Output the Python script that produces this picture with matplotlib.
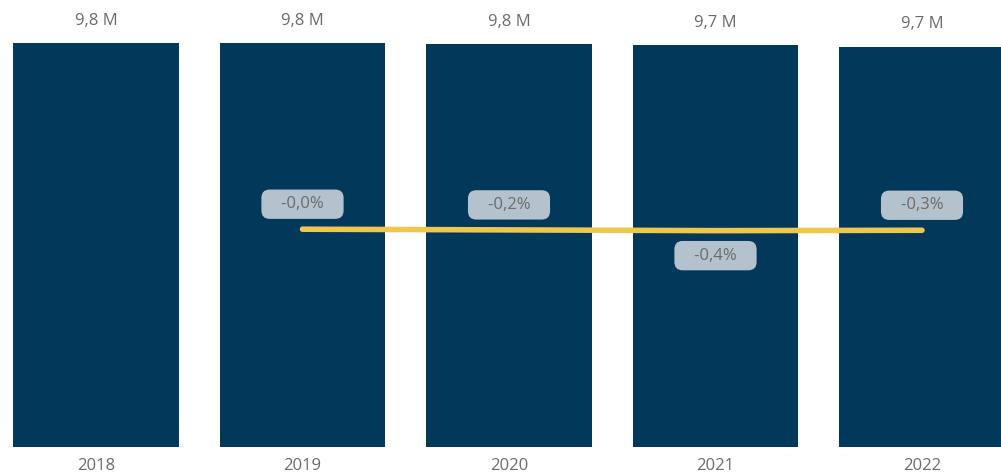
import matplotlib
matplotlib.use('Agg')
import matplotlib.pyplot as plt
import numpy as np

# data
years = ['2018', '2019', '2020', '2021', '2022']
valeurs = [9.80, 9.798, 9.78, 9.74, 9.71]   # millions
croissance = [None, -0.0002, -0.002, -0.004, -0.003]
label_pos = [None, 'up', 'up', 'down', 'up']

bleu = '#02395b'
jaune = '#efc84a'
gris_box = '#b4c2cd'
gris_txt = '#6b6b6b'

plt.rcParams['font.family'] = ['Open Sans', 'DejaVu Sans']

fig = plt.figure(figsize=(10.01, 4.74), dpi=100)
ax = fig.add_axes([0, 27 / 474, 1, 447 / 474])
x = np.arange(len(years))

ax.bar(x, valeurs, width=0.8, color=bleu, zorder=1)
ax.set_xlim(-96 / 206.5, 4 + 79 / 206.5)
ax.set_ylim(0, 9.80 * 447 / 404)

for xi, v in zip(x, valeurs):
    lab = ('%.1f M' % v).replace('.', ',')
    ax.annotate(lab, (xi, v), xytext=(0, 16), textcoords='offset points',
                ha='center', va='center', fontsize=12, color=gris_txt)

ax.set_xticks(x)
ax.set_xticklabels(years, fontsize=12, color=gris_txt)
ax.tick_params(axis='x', length=0, pad=8)
ax.set_yticks([])
for s in ax.spines.values():
    s.set_visible(False)

# ligne de croissance sur axe secondaire
ax2 = ax.twinx()
ax2.set_ylim(-0.58, 0.61)
xs = x[1:]
ys = croissance[1:]
ax2.plot(xs, ys, color=jaune, lw=4, solid_capstyle='round', zorder=3)
for xi, g, pos in zip(xs, ys, label_pos[1:]):
    lab = ('%.1f%%' % (g * 100)).replace('.', ',')
    off = 18 if pos == 'up' else -18
    ax2.annotate('   ' + lab + '   ', (xi, g), xytext=(0, off), textcoords='offset points',
                 ha='center', va='center', fontsize=12, color=gris_txt,
                 bbox=dict(boxstyle='round,pad=0.4,rounding_size=0.5', fc=gris_box, ec='none'))
ax2.set_yticks([])
for s in ax2.spines.values():
    s.set_visible(False)

fig.savefig('out.png', dpi=100)
